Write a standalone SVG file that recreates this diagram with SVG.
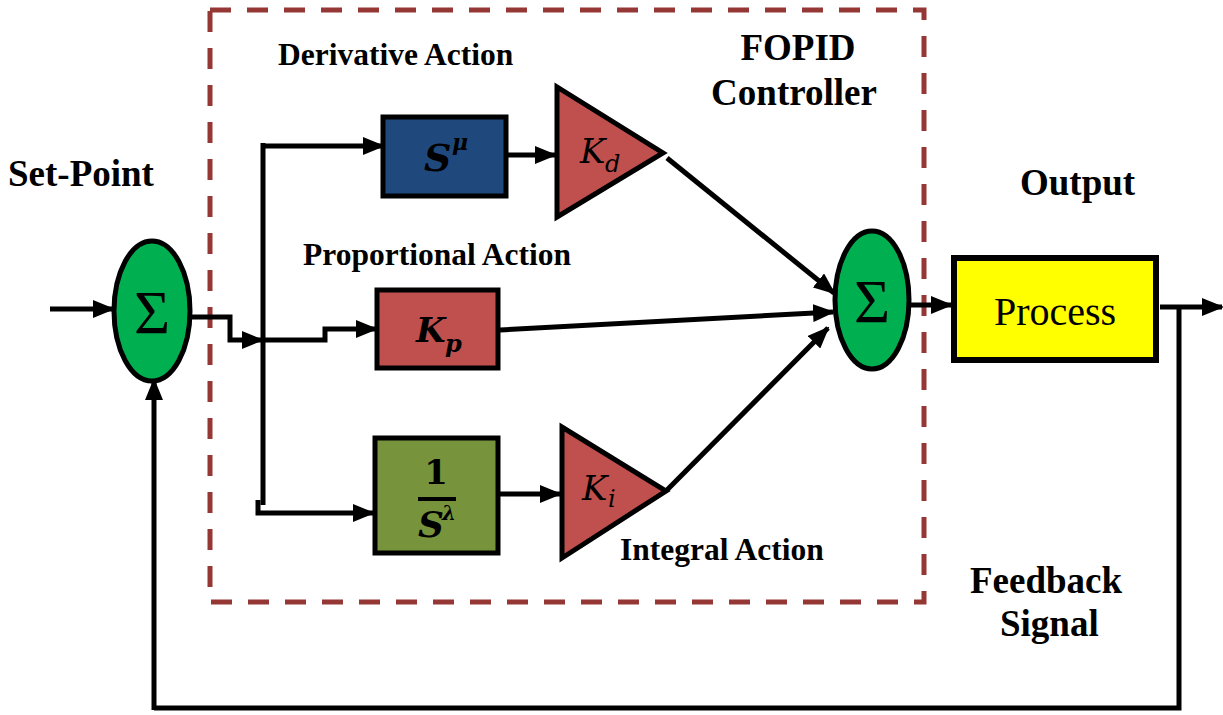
<svg xmlns="http://www.w3.org/2000/svg" width="1223" height="715" viewBox="0 0 1223 715">
<defs>
<marker id="ah" markerUnits="userSpaceOnUse" markerWidth="22" markerHeight="18" viewBox="0 0 22 18" refX="20" refY="9" orient="auto">
<path d="M0,0 L22,9 L0,18 Z" fill="#000"/>
</marker>
<style>
.ln{fill:none;stroke:#000;stroke-width:5}
.ar{fill:none;stroke:#000;stroke-width:5;marker-end:url(#ah)}
.lbl{font-family:"Liberation Serif",serif;font-weight:bold;fill:#000}
.big{font-size:37px}
.sm{font-size:31.5px}
.sig{font-family:"Liberation Serif",serif;font-size:62px;fill:#000}
.blk{stroke:#000;stroke-width:5}
.math{font-family:"DejaVu Serif","Liberation Serif",serif;fill:#000}
</style>
</defs>
<rect x="0" y="0" width="1223" height="715" fill="#fff"/>
<g id="fopid-frame">
<rect x="210" y="10" width="714" height="592" fill="none" stroke="#953735" stroke-width="5" stroke-dasharray="21 16"/>
</g>
<g id="connectors">
<path class="ar" d="M50,309 H113"/>
<path class="ar" d="M192,317 H230 V340 H262"/>
<path class="ln" d="M263,143 V505"/>
<path class="ar" d="M261,146 H383"/>
<path class="ar" d="M265,340 H325 V329 H376"/>
<path class="ar" d="M258,500 V513 H373"/>
<path class="ar" d="M507,155 H555"/>
<path class="ar" d="M498,494 H560"/>
<path class="ar" d="M667,158 L834,293"/>
<path class="ar" d="M500,330 L833,312"/>
<path class="ar" d="M667,490 L828,328"/>
<path class="ar" d="M910,305 H951"/>
<path class="ar" d="M1160,307 H1222"/>
<path class="ln" d="M1179,307 V708 H154"/>
<path class="ar" d="M154,710 V380"/>
</g>
<g id="sum1">
<ellipse cx="152" cy="311" rx="38" ry="70" fill="#00B050" stroke="#000" stroke-width="5"/>
<text class="sig" x="152" y="333" text-anchor="middle">Σ</text>
</g>
<g id="sum2">
<ellipse cx="872" cy="300" rx="37" ry="69" fill="#00B050" stroke="#000" stroke-width="5"/>
<text class="sig" x="872" y="322" text-anchor="middle">Σ</text>
</g>
<g id="s-mu">
<rect x="383" y="117" width="123" height="79" fill="#1F497D" class="blk"/>
<text class="math" x="424" y="171" font-size="38" font-weight="bold" font-style="italic">S</text>
<text class="math" x="452" y="150" font-size="22" font-weight="bold" font-style="italic">μ</text>
</g>
<g id="kd">
<polygon points="557,87 557,217 663,153" fill="#C0504D" class="blk"/>
<text class="math" x="580" y="163" font-size="34" font-style="italic">K</text>
<text class="math" x="605" y="172" font-size="24" font-style="italic">d</text>
</g>
<g id="kp">
<rect x="377" y="290" width="121" height="78" fill="#C0504D" class="blk"/>
<text class="math" x="416" y="342" font-size="34" font-weight="bold" font-style="italic">K</text>
<text class="math" x="445" y="352" font-size="24" font-weight="bold" font-style="italic">p</text>
</g>
<g id="s-lambda">
<rect x="375" y="438" width="123" height="115" fill="#77933C" class="blk"/>
<text class="math" x="436" y="484" font-size="34" font-weight="bold" text-anchor="middle">1</text>
<rect x="418" y="497" width="38" height="4" fill="#000"/>
<text class="math" x="418" y="537" font-size="36" font-weight="bold" font-style="italic">S</text>
<text class="math" x="442" y="520" font-size="20" font-weight="bold" font-style="italic">λ</text>
</g>
<g id="ki">
<polygon points="562,427 562,558 666,491" fill="#C0504D" class="blk"/>
<text class="math" x="582" y="500" font-size="34" font-style="italic">K</text>
<text class="math" x="608" y="507" font-size="24" font-style="italic">i</text>
</g>
<g id="process">
<rect x="954" y="258" width="202" height="102" fill="#FFFF00" stroke="#000" stroke-width="6"/>
<text x="1055" y="325" text-anchor="middle" font-family="Liberation Serif, serif" font-size="40">Process</text>
</g>
<g id="labels">
<text class="lbl big" x="8" y="186">Set-Point</text>
<text class="lbl sm" x="278" y="65">Derivative Action</text>
<text class="lbl big" x="798" y="60" text-anchor="middle">FOPID</text>
<text class="lbl big" x="794" y="105" text-anchor="middle">Controller</text>
<text class="lbl big" x="1020" y="195">Output</text>
<text class="lbl sm" x="303" y="265">Proportional Action</text>
<text class="lbl sm" x="620" y="560">Integral Action</text>
<text class="lbl big" x="970" y="593">Feedback</text>
<text class="lbl big" x="1000" y="636">Signal</text>
</g>
</svg>
